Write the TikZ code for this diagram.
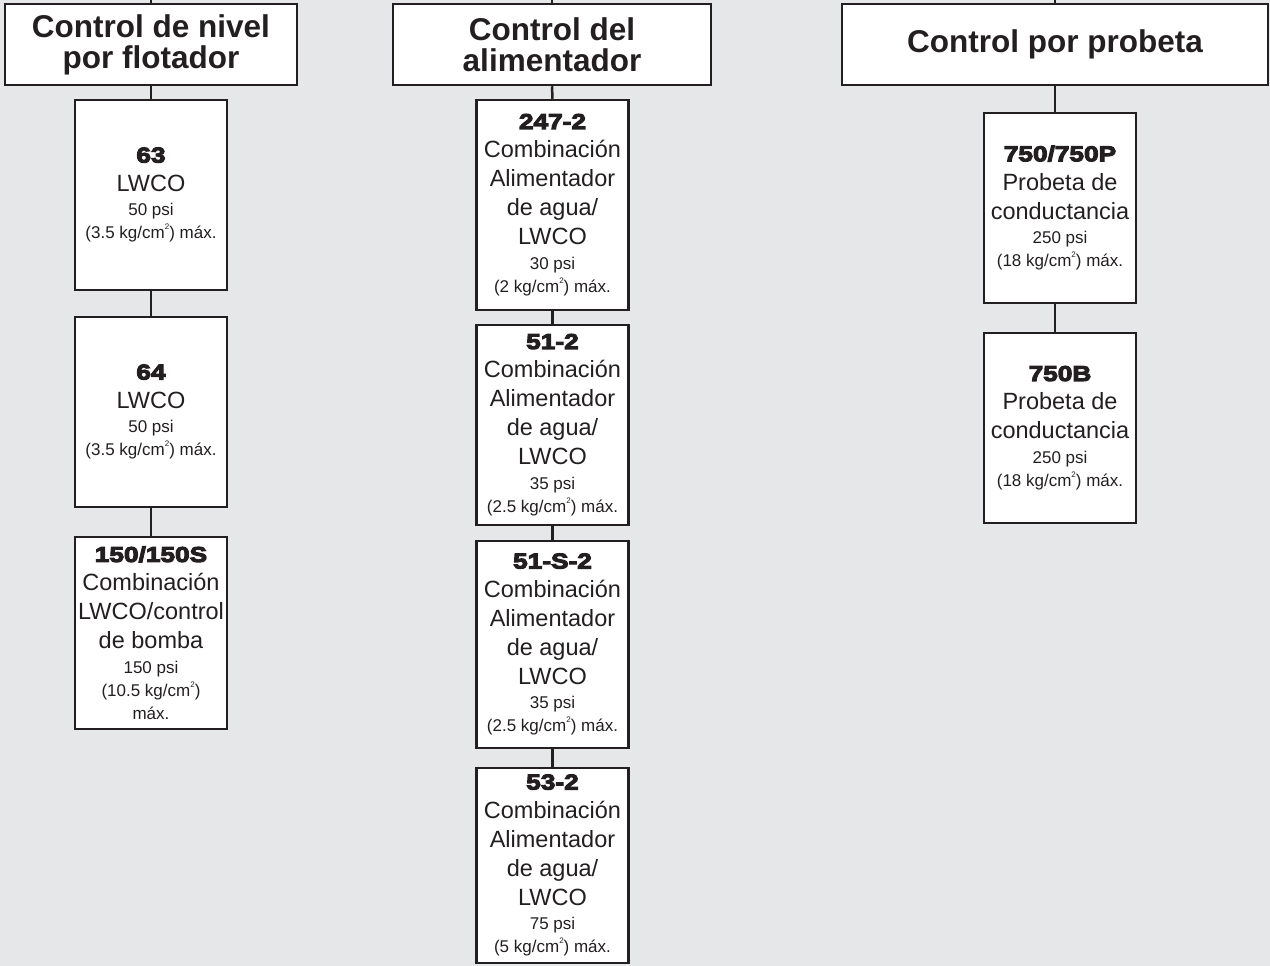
\documentclass[tikz,border=0pt]{standalone}
\usepackage{fontspec}
\setmainfont{Liberation Sans}
\newfontfamily\numfont{Liberation Sans}[FakeStretch=1.22, BoldFeatures={FakeBold=5}]
\definecolor{bgc}{HTML}{E6E7E8}
\definecolor{inkc}{HTML}{231F20}
\newcommand\natsp{\spaceskip=\fontdimen2\font\relax\xspaceskip=\fontdimen2\font\relax}
\newcommand\pnum[1]{{\numfont\bfseries\fontsize{21.5}{29}\selectfont\natsp #1\par}}
\newcommand\pbody[1]{{\fontsize{23.5}{29}\selectfont\natsp #1\par}}
\newcommand\psmall[1]{{\fontsize{17}{23}\selectfont\natsp\vspace{1.5pt}#1\par}}
\newcommand\sqr{\raisebox{0.55em}{\fontsize{8}{8}\selectfont 2}}
\begin{document}
\begin{tikzpicture}[x=1pt,y=-1pt,
  hdr/.style={draw=inkc, line width=2.5pt, fill=white, inner sep=0pt,
    minimum height=81pt, align=center, text=inkc,
    font=\bfseries\fontsize{31.5}{31}\selectfont},
  prod/.style={draw=inkc, line width=2.5pt, fill=white, inner xsep=2pt, inner ysep=0pt,
    text width=148pt, align=center, text=inkc},
  conn/.style={draw=inkc, line width=2.5pt}]
\useasboundingbox (0,0) rectangle (1270,966);
\fill[bgc] (0,0) rectangle (1270,966);
% headers
\node[hdr, minimum width=292pt] (h1) at (151,44.5) {Control de nivel\\por flotador};
\node[hdr, minimum width=318pt] (h2) at (552,44.5) {Control del\\alimentador};
\node[hdr, minimum width=426pt] (h3) at (1055,44.5) {Control por probeta};
\coordinate (t1) at (151,0);
\coordinate (t2) at (552,0);
\coordinate (t3) at (1055,0);
% column 1
\node[prod, minimum height=190pt] (b63) at (151,195) {\pnum{63}\pbody{LWCO}\psmall{50 psi\\(3.5 kg/cm\sqr) máx.}};
\node[prod, minimum height=190pt] (b64) at (151,412) {\pnum{64}\pbody{LWCO}\psmall{50 psi\\(3.5 kg/cm\sqr) máx.}};
\node[prod, minimum height=192pt] (b150) at (151,633) {\pnum{150/150S}\pbody{Combinación\\LWCO/control\\de bomba}\psmall{150 psi\\(10.5 kg/cm\sqr)\\máx.}};
% column 2
\node[prod, minimum height=210pt] (b247) at (552.5,205) {\pnum{247-2}\pbody{Combinación\\Alimentador\\de agua/\\LWCO}\psmall{30 psi\\(2 kg/cm\sqr) máx.}};
\node[prod, minimum height=200pt] (b51) at (552.5,425) {\pnum{51-2}\pbody{Combinación\\Alimentador\\de agua/\\LWCO}\psmall{35 psi\\(2.5 kg/cm\sqr) máx.}};
\node[prod, minimum height=207pt] (b51s) at (552.5,644.5) {\pnum{51-S-2}\pbody{Combinación\\Alimentador\\de agua/\\LWCO}\psmall{35 psi\\(2.5 kg/cm\sqr) máx.}};
\node[prod, minimum height=195pt] (b53) at (552.5,865.5) {\pnum{53-2}\pbody{Combinación\\Alimentador\\de agua/\\LWCO}\psmall{75 psi\\(5 kg/cm\sqr) máx.}};
% column 3
\node[prod, minimum height=190pt] (b750) at (1060,208) {\pnum{750/750P}\pbody{Probeta de\\conductancia}\psmall{250 psi\\(18 kg/cm\sqr) máx.}};
\node[prod, minimum height=190pt] (b750b) at (1060,428) {\pnum{750B}\pbody{Probeta de\\conductancia}\psmall{250 psi\\(18 kg/cm\sqr) máx.}};
% connectors
\draw[conn] (t1) -- (h1.north);
\draw[conn] (t2) -- (h2.north);
\draw[conn] (t3) -- (h3.north);
\draw[conn] (h1.south) -- (b63.north);
\draw[conn] (b63.south) -- (b64.north);
\draw[conn] (b64.south) -- (b150.north);
\draw[conn] (h2.south) -- (b247.north);
\draw[conn] (b247.south) -- (b51.north);
\draw[conn] (b51.south) -- (b51s.north);
\draw[conn] (b51s.south) -- (b53.north);
\draw[conn] (h3.south) -- (h3.south |- b750.north);
\draw[conn] (b750.south -| h3.south) -- (b750b.north -| h3.south);
\end{tikzpicture}
\end{document}
